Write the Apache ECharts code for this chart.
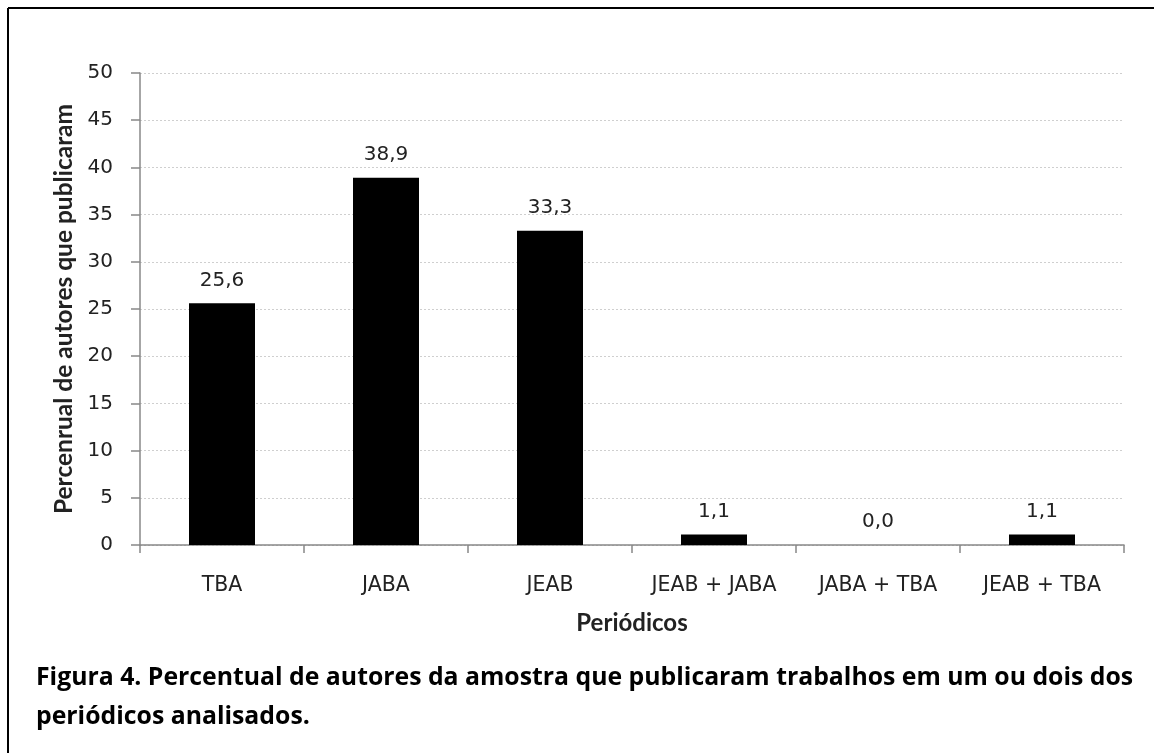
<!DOCTYPE html>
<html>
<head>
<meta charset="utf-8">
<script src="https://cdn.jsdelivr.net/npm/echarts@6/dist/echarts.min.js"></script>
<style>
  html, body { margin: 0; padding: 0; background: #fff; }
  #chart { width: 1154px; height: 753px; }
</style>
</head>
<body>
<div id="chart"></div>
<script>
// dados
const categories = ['TBA', 'JABA', 'JEAB', 'JEAB + JABA', 'JABA + TBA', 'JEAB + TBA']
const percentuais = [25.6, 38.9, 33.3, 1.1, 0.0, 1.1]
const captionLines = [
  'Figura 4. Percentual de autores da amostra que publicaram trabalhos em um ou dois dos',
  'periódicos analisados.'
]

const axisFont = 'DejaVu Sans'
const titleFont = 'Lato'
const chart = echarts.init(document.getElementById('chart'))

const option = {
  animation: false,
  backgroundColor: '#fff',
  grid: { left: 140, right: 30, top: 73, bottom: 208 },
  xAxis: {
    type: 'category',
    data: categories,
    name: 'Periódicos',
    nameLocation: 'middle',
    nameGap: 66,
    nameTextStyle: { fontFamily: titleFont, fontWeight: 'bold', fontSize: 24, color: '#222' },
    axisLine: { lineStyle: { color: '#888', width: 1.5 } },
    axisTick: { show: true, length: 8, lineStyle: { color: '#888', width: 1.5 } },
    axisLabel: { fontFamily: axisFont, fontSize: 20.5, color: '#222', margin: 30 }
  },
  yAxis: {
    type: 'value',
    min: 0,
    max: 50,
    interval: 5,
    name: 'Percenrual de autores que publicaram',
    nameLocation: 'middle',
    nameGap: 56,
    nameRotate: 90,
    nameTextStyle: { fontFamily: titleFont, fontWeight: 'bold', fontSize: 24.5, color: '#222' },
    axisLine: { show: true, lineStyle: { color: '#888', width: 1.5 } },
    axisTick: { show: true, length: 9, lineStyle: { color: '#888', width: 1.5 } },
    axisLabel: { fontFamily: axisFont, fontSize: 20, color: '#222', margin: 27 },
    splitLine: { lineStyle: { color: '#cfcfcf', type: [2, 2], width: 1 } }
  },
  series: [
    {
      type: 'bar',
      data: percentuais,
      barWidth: 66,
      itemStyle: { color: '#000' },
      label: {
        show: true,
        position: 'top',
        distance: 13,
        fontFamily: axisFont,
        fontSize: 20,
        color: '#222',
        formatter: p => p.value.toFixed(1).replace('.', ',')
      }
    }
  ],
  graphic: [
    { type: 'line', shape: { x1: 8, y1: 8, x2: 1154, y2: 8 }, style: { stroke: '#000', lineWidth: 2 } },
    { type: 'line', shape: { x1: 8, y1: 8, x2: 8, y2: 753 }, style: { stroke: '#000', lineWidth: 2 } },
    {
      type: 'text', left: 36, top: 665,
      style: { text: captionLines[0], font: 'bold 24.8px "Open Sans"', fill: '#000' }
    },
    {
      type: 'text', left: 36, top: 704,
      style: { text: captionLines[1], font: 'bold 24.8px "Open Sans"', fill: '#000' }
    }
  ]
}

chart.setOption(option)
</script>
</body>
</html>
